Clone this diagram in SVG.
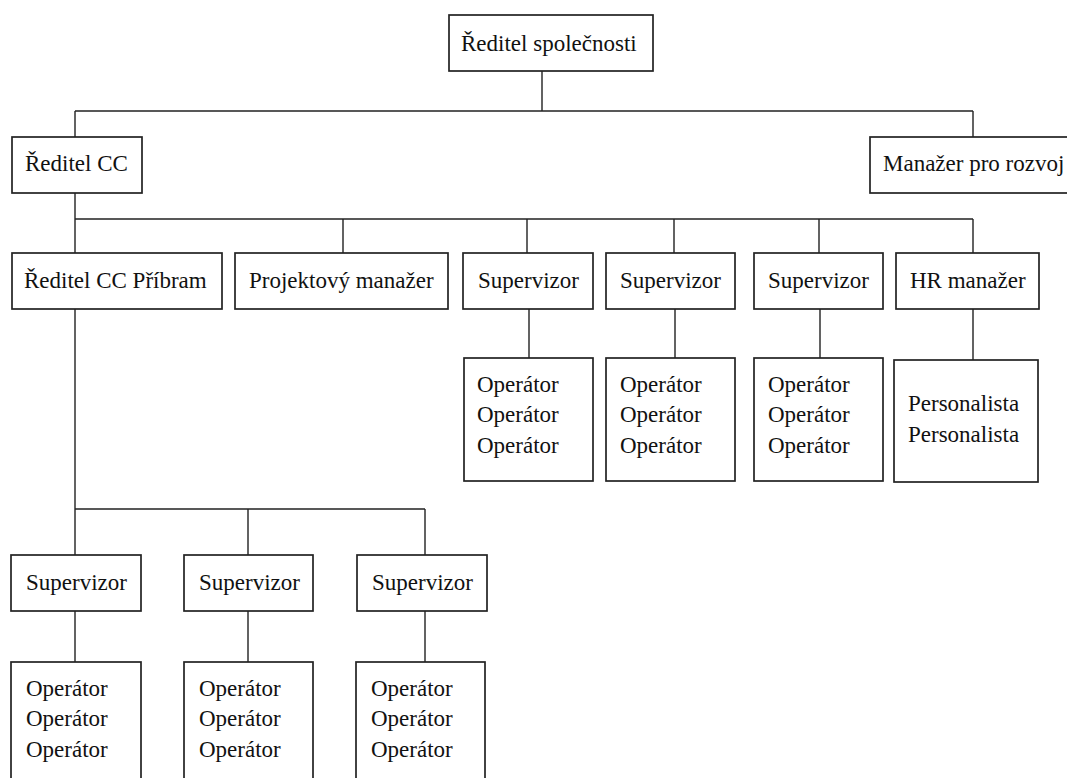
<svg xmlns="http://www.w3.org/2000/svg" width="1067" height="778" viewBox="0 0 1067 778">
  <style>
    .box { fill: #ffffff; stroke: #222222; stroke-width: 1.7; }
    .link { fill: none; stroke: #222222; stroke-width: 1.4; }
    text { font-family: "Liberation Serif", "Times New Roman", serif; font-size: 23px; fill: #111111; }
  </style>
  <rect width="1067" height="778" fill="#ffffff"/>

  <!-- connectors -->
  <g id="connectors" class="link">
    <path d="M542 71 V111 M75 111 H973 M75 111 V137 M973 111 V137"/>
    <path d="M75 193 V253 M75 219 H973 M343 219 V253 M527 219 V253 M674 219 V253 M819 219 V253 M973 219 V253"/>
    <path d="M529 309 V358 M675 309 V358 M820 309 V358 M973 309 V360"/>
    <path d="M75 309 V555 M75 509 H425 M248 509 V555 M425 509 V555"/>
    <path d="M75 611 V662 M248 611 V662 M425 611 V662"/>
  </g>

  <!-- top level -->
  <g id="reditel-spolecnosti">
    <rect class="box" x="449" y="15" width="204" height="56"/>
    <text x="461" y="51">Ředitel společnosti</text>
  </g>

  <!-- second level -->
  <g id="reditel-cc">
    <rect class="box" x="12" y="137" width="130" height="56"/>
    <text x="25" y="171">Ředitel CC</text>
  </g>
  <g id="manazer-pro-rozvoj">
    <rect class="box" x="870" y="137" width="210" height="56"/>
    <text x="883" y="171">Manažer pro rozvoj</text>
  </g>

  <!-- third level -->
  <g id="reditel-cc-pribram">
    <rect class="box" x="12" y="253" width="210" height="56"/>
    <text x="24" y="288">Ředitel CC Příbram</text>
  </g>
  <g id="projektovy-manazer">
    <rect class="box" x="235" y="253" width="213" height="56"/>
    <text x="249" y="288">Projektový manažer</text>
  </g>
  <g id="supervizor-1">
    <rect class="box" x="463" y="253" width="130" height="56"/>
    <text x="478" y="288">Supervizor</text>
  </g>
  <g id="supervizor-2">
    <rect class="box" x="606" y="253" width="129" height="56"/>
    <text x="620" y="288">Supervizor</text>
  </g>
  <g id="supervizor-3">
    <rect class="box" x="754" y="253" width="129" height="56"/>
    <text x="768" y="288">Supervizor</text>
  </g>
  <g id="hr-manazer">
    <rect class="box" x="896" y="253" width="143" height="56"/>
    <text x="910" y="288">HR manažer</text>
  </g>

  <!-- operator teams -->
  <g id="operatori-1">
    <rect class="box" x="464" y="358" width="129" height="123"/>
    <text x="477" y="392">Operátor</text>
    <text x="477" y="422">Operátor</text>
    <text x="477" y="453">Operátor</text>
  </g>
  <g id="operatori-2">
    <rect class="box" x="606" y="358" width="129" height="123"/>
    <text x="620" y="392">Operátor</text>
    <text x="620" y="422">Operátor</text>
    <text x="620" y="453">Operátor</text>
  </g>
  <g id="operatori-3">
    <rect class="box" x="754" y="358" width="129" height="123"/>
    <text x="768" y="392">Operátor</text>
    <text x="768" y="422">Operátor</text>
    <text x="768" y="453">Operátor</text>
  </g>
  <g id="personaliste">
    <rect class="box" x="894" y="360" width="144" height="122"/>
    <text x="908" y="411">Personalista</text>
    <text x="908" y="442">Personalista</text>
  </g>

  <!-- Příbram branch -->
  <g id="supervizor-pribram-1">
    <rect class="box" x="11" y="555" width="130" height="56"/>
    <text x="26" y="590">Supervizor</text>
  </g>
  <g id="supervizor-pribram-2">
    <rect class="box" x="184" y="555" width="129" height="56"/>
    <text x="199" y="590">Supervizor</text>
  </g>
  <g id="supervizor-pribram-3">
    <rect class="box" x="357" y="555" width="130" height="56"/>
    <text x="372" y="590">Supervizor</text>
  </g>
  <g id="operatori-pribram-1">
    <rect class="box" x="11" y="662" width="130" height="130"/>
    <text x="26" y="696">Operátor</text>
    <text x="26" y="726">Operátor</text>
    <text x="26" y="757">Operátor</text>
  </g>
  <g id="operatori-pribram-2">
    <rect class="box" x="184" y="662" width="129" height="130"/>
    <text x="199" y="696">Operátor</text>
    <text x="199" y="726">Operátor</text>
    <text x="199" y="757">Operátor</text>
  </g>
  <g id="operatori-pribram-3">
    <rect class="box" x="356" y="662" width="129" height="130"/>
    <text x="371" y="696">Operátor</text>
    <text x="371" y="726">Operátor</text>
    <text x="371" y="757">Operátor</text>
  </g>
</svg>
